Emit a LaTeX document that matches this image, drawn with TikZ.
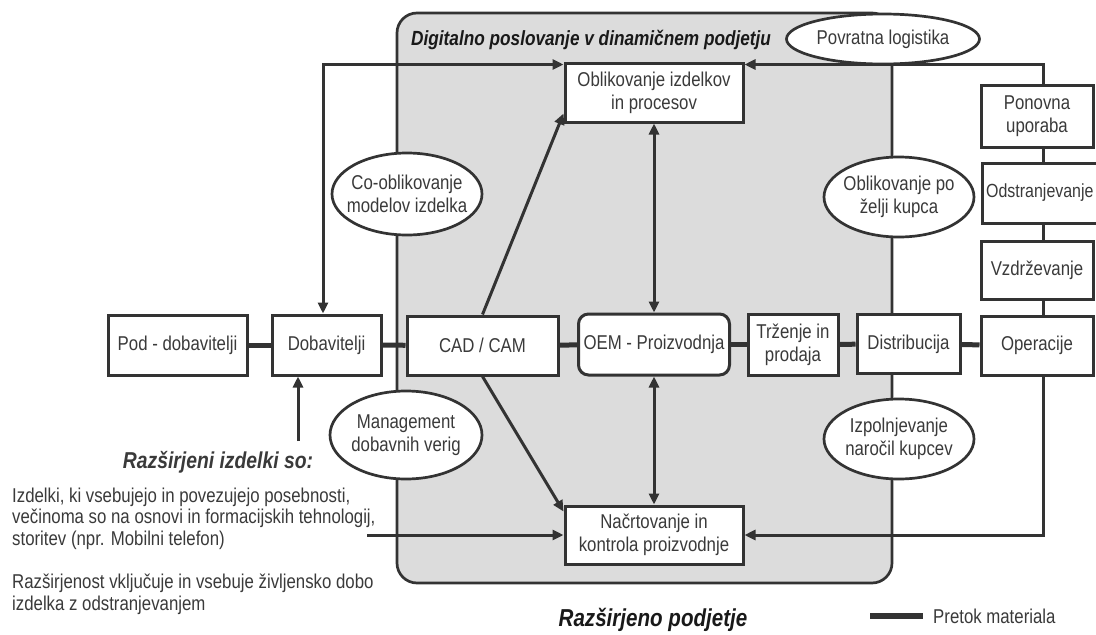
\documentclass[tikz,border=0pt]{standalone}
\usepackage{fontspec}
\setmainfont{Liberation Sans}[FakeStretch=0.84]
\usetikzlibrary{arrows.meta,shapes.geometric,calc}
\definecolor{ln}{HTML}{333333}
\definecolor{tx}{HTML}{3A3A3A}
\definecolor{gfill}{HTML}{DCDCDC}
\begin{document}
\begin{tikzpicture}[x=1pt,y=-1pt,
  fnt/.style={font=\fontsize{20}{23}\selectfont},
  box/.style={draw=ln,line width=3pt,fill=white,text=tx,align=center,inner sep=0pt,fnt},
  oval/.style={ellipse,draw=ln,line width=2.7pt,fill=white,inner sep=0pt},
  txt/.style={text=tx,align=center,inner sep=0pt,fnt},
  flow/.style={draw=ln,line width=5pt},
  thin/.style={draw=ln,line width=3pt},
  info/.style={draw=ln,line width=3pt,-{Triangle[length=11pt,width=10pt]}},
  dbl/.style={draw=ln,line width=3pt,{Triangle[length=11pt,width=10pt]}-{Triangle[length=11pt,width=10pt]}},
  bi/.style={font=\bfseries\itshape\fontsize{#1}{#1}\selectfont}
]
\useasboundingbox (0,0) rectangle (1096,635);
\fill[white] (0,0) rectangle (1096,635);

% enterprise area
\draw[draw=ln,line width=2.7pt,fill=gfill,rounded corners=20pt] (397,13) rectangle (892,583);
\node[bi=20.5,anchor=west,text=black!90,inner sep=0pt] (title) at (411,40) {Digitalno poslovanje v dinamičnem podjetju};

% main row
\node[box,minimum width=139pt,minimum height=60pt] (pod) at (177.5,345) {Pod - dobavitelji};
\node[box,minimum width=109pt,minimum height=60pt] (dob) at (326.5,345) {Dobavitelji};
\node[box,minimum width=151pt,minimum height=59pt] (cad) at (482.5,345.5) {CAD / CAM};
\node[box,rounded corners=10pt,minimum width=151pt,minimum height=61pt] (oem) at (654,344.5) {OEM - Proizvodnja};
\node[box,minimum width=90pt,minimum height=61pt] (trz) at (793,344.5) {Trženje in\\prodaja};
\node[box,minimum width=103pt,minimum height=59pt] (dist) at (908.5,344) {Distribucija};
\node[box,minimum width=112pt,minimum height=59pt] (oper) at (1037,345.5) {Operacije};

% upper / lower boxes
\node[box,minimum width=178pt,minimum height=59pt] (obl) at (654,92.5) {Oblikovanje izdelkov\\in procesov};
\node[box,minimum width=178pt,minimum height=58pt] (nac) at (654,535) {Načrtovanje in\\kontrola proizvodnje};

% right column
\node[box,minimum width=112pt,minimum height=62pt] (pon) at (1037,116) {Ponovna\\uporaba};
\node[box,anchor=west,minimum width=126pt,minimum height=60pt] (odst) at (981,193) {};
\node[txt,anchor=west,font=\fontsize{19}{23}\selectfont] (odstt) at (986,193) {Odstranjevanje};
\node[box,minimum width=112pt,minimum height=58pt] (vzd) at (1037,270) {Vzdrževanje};

% material flow
\draw[flow] (pod) -- (dob);
\draw[flow] (dob) -- (cad);
\draw[flow] (cad) -- (oem);
\draw[flow] (oem) -- (trz);
\draw[flow] (trz) -- (dist);
\draw[flow] (dist) -- (oper);

% right column links
\draw[thin] ([xshift=6pt]pon.south) -- ([xshift=6pt]pon.south |- odst.north);
\draw[thin] ([xshift=6pt]pon.south |- odst.south) -- ([xshift=6pt]vzd.north);
\draw[thin] ([xshift=6pt]vzd.south) -- ([xshift=6pt]oper.north);

% information flows
\draw[dbl] ([xshift=-3.5pt]dob.north) |- ([yshift=-3pt]obl.north west);
\draw[info] ([xshift=6pt]pon.north) |- ([yshift=-3pt]obl.north east);
\draw[info] ([xshift=6pt]oper.south) |- (nac.east);
\draw[dbl] (obl.south) -- (oem.north);
\draw[dbl] (oem.south) -- (nac.north);
\draw[info] (cad.north) -- ([yshift=10pt]obl.south west);
\draw[info] (cad.south) -- ([yshift=-7pt]nac.north west);

% ellipses
\node[oval,minimum width=193pt,minimum height=50pt] (pov) at (883,39) {};
\node[txt] at (pov) {Povratna logistika};
\node[oval,minimum width=150pt,minimum height=82pt] (coo) at (407,194) {};
\node[txt] at (coo) {Co-oblikovanje\\modelov izdelka};
\node[oval,minimum width=150pt,minimum height=80pt] (pok) at (899,197) {};
\node[txt] at (pok) {Oblikovanje po\\želji kupca};
\node[oval,minimum width=152pt,minimum height=88pt] (man) at (406,435) {};
\node[txt] at (man) {Management\\dobavnih verig};
\node[oval,minimum width=150pt,minimum height=80pt] (izp) at (899,439) {};
\node[txt] at (izp) {Izpolnjevanje\\naročil kupcev};

% left text
\node[bi=23,text=tx,inner sep=0pt] (raz) at (218,462) {Razširjeni izdelki so:};
\coordinate (razt) at (298,441);
\draw[info] (razt) -- (razt |- dob.south);
\node[anchor=north west,align=left,text=tx,inner sep=0pt,font=\fontsize{20}{21.5}\selectfont] (t1) at (12,487.5)
  {Izdelki, ki vsebujejo in povezujejo posebnosti,\\večinoma so na osnovi in formacijskih tehnologij,\\storitev (npr. Mobilni telefon)};
\coordinate (src) at (367,535);
\draw[info] (src) -- (nac.west);
\node[anchor=north west,align=left,text=tx,inner sep=0pt,font=\fontsize{20}{21.5}\selectfont] (t2) at (12,574)
  {Razširjenost vključuje in vsebuje življensko dobo\\izdelka z odstranjevanjem};

% bottom caption and legend
\node[bi=24.5,text=black!90,inner sep=0pt] (cap) at (653,620) {Razširjeno podjetje};
\coordinate (lg1) at (870,616);
\coordinate (lg2) at (923,616);
\draw[draw=ln,line width=6pt] (lg1) -- (lg2);
\node[txt,anchor=west] (lgt) at (933,616) {Pretok materiala};
\end{tikzpicture}
\end{document}
